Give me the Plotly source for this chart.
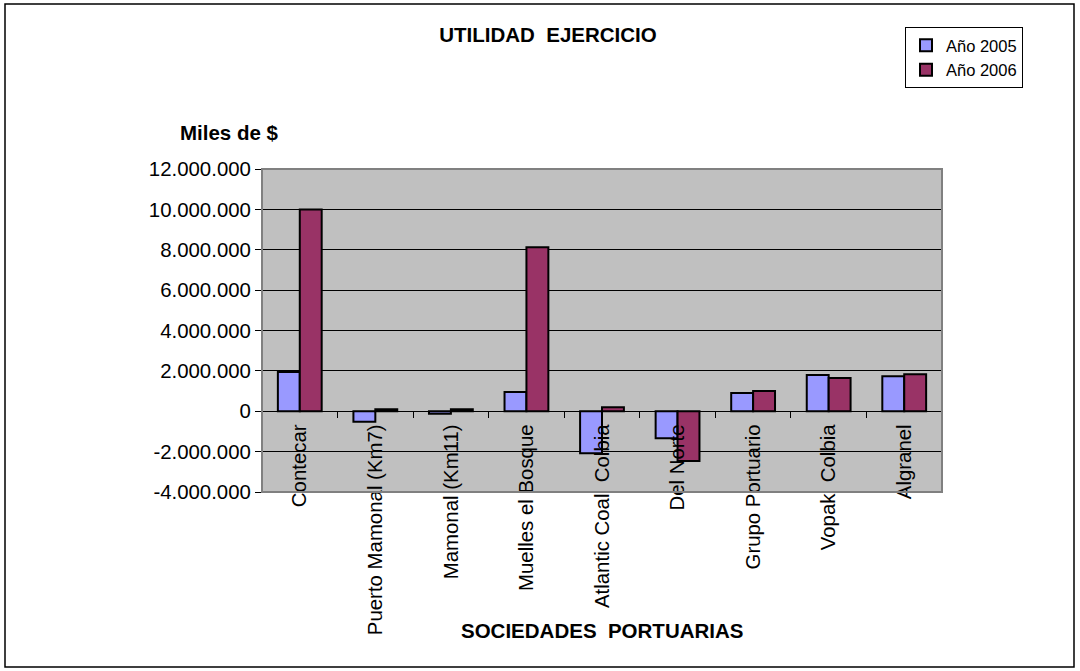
import plotly.graph_objects as go

categories = ["Contecar", "Puerto Mamonal (Km7)", "Mamonal (Km11)", "Muelles el Bosque",
              "Atlantic Coal  Colbia", "Del Norte", "Grupo Portuario", "Vopak  Colbia", "Algranel"]
values_2005 = [1950000, -520000, -120000, 950000, -2080000, -1340000, 900000, 1800000, 1730000]
values_2006 = [10000000, 100000, 100000, 8130000, 200000, -2470000, 1000000, 1650000, 1830000]
series_names = ["Año 2005", "Año 2006"]
tick_values = [-4000000, -2000000, 0, 2000000, 4000000, 6000000, 8000000, 10000000, 12000000]


def fmt(v):
    s = f"{abs(v):,}".replace(",", ".")
    return ("-" if v < 0 else "") + s


tick_text = [fmt(v) for v in tick_values]

W, H = 1080, 671
L, R, T, B = 262, 138, 169, 179
pw, ph = W - L - R, H - T - B

FONT = "Liberation Sans, Arial, sans-serif"
TS = 20.4

fig = go.Figure()
fig.add_trace(go.Bar(x=categories, y=values_2005, name=series_names[0],
                     marker=dict(color="#9999FF", line=dict(color="black", width=2))))
fig.add_trace(go.Bar(x=categories, y=values_2006, name=series_names[1],
                     marker=dict(color="#993366", line=dict(color="black", width=2))))

ymin, ymax = -4000000, 12000000
zero_pos = (0 - ymin) / (ymax - ymin)


def px_x(x):
    return (x - L) / pw


def px_y(y):
    return (H - B - y) / ph


fig.update_layout(
    width=W, height=H,
    margin=dict(l=L, r=R, t=T, b=B),
    paper_bgcolor="white",
    plot_bgcolor="#C0C0C0",
    barmode="group", bargap=0.42, bargroupgap=0,
    font=dict(family=FONT, color="black", size=TS),
    showlegend=True,
    legend=dict(x=px_x(905), y=px_y(27), xanchor="left", yanchor="top",
                bordercolor="black", borderwidth=1, bgcolor="white",
                font=dict(size=16.5, family=FONT), tracegroupgap=0,
                itemsizing="constant", itemwidth=30),
    title=dict(text="<b>UTILIDAD  EJERCICIO</b>", x=548 / W, xanchor="center",
               y=1 - 35 / H, yanchor="middle", font=dict(size=20.5, family=FONT)),
    xaxis=dict(anchor="free", position=zero_pos, showline=True, linecolor="black", linewidth=1,
               ticks="outside", tickson="boundaries", ticklen=6, tickcolor="black",
               tickangle=-90, showgrid=False, tickfont=dict(size=TS), ticklabelstandoff=4),
    yaxis=dict(range=[ymin, ymax], tickvals=tick_values, ticktext=tick_text,
               showgrid=True, gridcolor="black", gridwidth=1,
               zeroline=True, zerolinecolor="black", zerolinewidth=1,
               showline=True, linecolor="black", linewidth=1,
               ticks="outside", ticklen=6, tickcolor="black", tickfont=dict(size=TS)),
    annotations=[
        dict(text="<b>Miles de $</b>", xref="paper", yref="paper", x=px_x(229), y=px_y(132),
             showarrow=False, font=dict(size=20.5, family=FONT), xanchor="center", yanchor="middle"),
        dict(text="<b>SOCIEDADES  PORTUARIAS</b>", xref="paper", yref="paper", x=px_x(602), y=px_y(630),
             showarrow=False, font=dict(size=20.5, family=FONT), xanchor="center", yanchor="middle"),
    ],
    shapes=[
        dict(type="rect", xref="paper", yref="paper", x0=0, x1=1, y0=0, y1=1,
             line=dict(color="#808080", width=2), layer="above"),
        dict(type="rect", xref="paper", yref="paper", x0=px_x(5), x1=px_x(1074),
             y0=px_y(667), y1=px_y(4), line=dict(color="black", width=1.5)),
    ],
)

fig.write_html("out.html", config={"displayModeBar": False},
               post_script="document.body.style.margin='0';")
